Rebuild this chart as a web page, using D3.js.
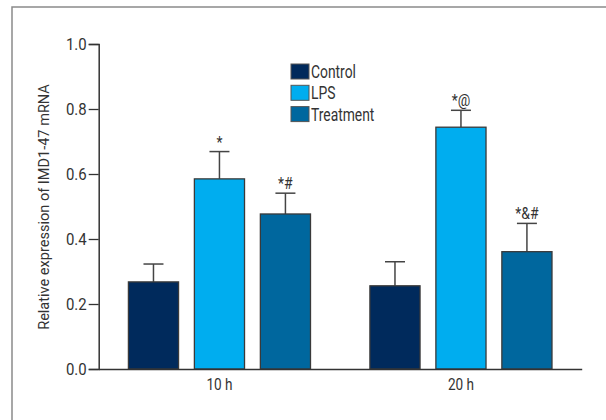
<!DOCTYPE html>
<html><head><meta charset="utf-8">
<script src="https://cdn.jsdelivr.net/npm/d3@7"></script>
<style>
html,body{margin:0;padding:0;background:#fff;}
svg{display:block;}
svg text{font-family:Roboto,"Noto Sans",sans-serif;}
</style></head>
<body>
<svg id="c" width="606" height="420"></svg>
<script>
const groups = ["10 h", "20 h"];
const series = ["Control", "LPS", "Treatment"];
const colors = ["#002a5c", "#00adef", "#00679e"];
const control = [0.268, 0.256];
const lps = [0.585, 0.744];
const treatment = [0.477, 0.361];
const controlErr = [0.055, 0.074];
const lpsErr = [0.084, 0.052];
const treatmentErr = [0.064, 0.087];
const controlSig = ["", ""];
const lpsSig = ["*", "*@"];
const treatmentSig = ["*#", "*&#"];
const yTicks = [0, 0.2, 0.4, 0.6, 0.8, 1.0];
const yLabel = "Relative expression of IMD1-47 mRNA";

const vals = [control, lps, treatment];
const errs = [controlErr, lpsErr, treatmentErr];
const sigs = [controlSig, lpsSig, treatmentSig];

// horizontal condensing around the text anchor point
function condense(sel, f) {
  sel.each(function() {
    const t = d3.select(this);
    const x = +(t.attr("x") || 0);
    const prev = t.attr("transform") || "";
    t.attr("transform", `${prev} translate(${x},0) scale(${f},1) translate(${-x},0)`);
  });
}

const svg = d3.select("#c");
svg.append("path").attr("d", "M12,420 V7 H606").attr("fill","none")
  .attr("stroke","#8a8a8a").attr("stroke-width",1.5);

const x0 = 98.7, x1 = 581.7, yTop = 44, yBot = 369;
const y = d3.scaleLinear().domain([0,1]).range([yBot, yTop]);
const gx = d3.scaleBand().domain(groups).range([x0, x1]).paddingInner(0.246).paddingOuter(0.123);
const sx = d3.scaleBand().domain(series).range([0, gx.bandwidth()]).paddingInner(0.24).paddingOuter(0);

groups.forEach((g, gi) => {
  series.forEach((s, si) => {
    const v = vals[si][gi], e = errs[si][gi];
    const bx = gx(g) + sx(s), bw = sx.bandwidth(), cx = bx + bw/2;
    svg.append("line").attr("x1",cx).attr("x2",cx).attr("y1",y(v)).attr("y2",y(v+e))
      .attr("stroke","#444").attr("stroke-width",1.5);
    svg.append("line").attr("x1",cx-10).attr("x2",cx+10).attr("y1",y(v+e)).attr("y2",y(v+e))
      .attr("stroke","#444").attr("stroke-width",1.5);
    svg.append("rect").attr("x",bx).attr("y",y(v)).attr("width",bw).attr("height",y(0)-y(v))
      .attr("fill",colors[si]).attr("stroke","#3a3a3a").attr("stroke-width",1.3);
    const sig = sigs[si][gi];
    if (sig) {
      const t = svg.append("text").attr("x",cx).attr("y",y(v+e)-4).attr("text-anchor","middle")
        .attr("font-size",17).attr("fill","#333").text(sig);
      condense(t, 0.82);
    }
  });
});

const ya = svg.append("g").attr("transform",`translate(${x0},0)`)
  .call(d3.axisLeft(y).tickValues(yTicks).tickFormat(d3.format(".1f")).tickSizeOuter(0).tickSize(10).tickPadding(2));
ya.attr("font-family",null).attr("font-size",null);
ya.select(".domain").attr("stroke","#333").attr("stroke-width",1.5);
ya.selectAll(".tick line").attr("stroke","#333").attr("stroke-width",1.3);
ya.selectAll(".tick text").attr("font-size",17).attr("fill","#333");
condense(ya.selectAll(".tick text"), 0.88);

const xa = svg.append("g").attr("transform",`translate(0,${yBot})`)
  .call(d3.axisBottom(gx).tickSize(0).tickPadding(9));
xa.attr("font-family",null).attr("font-size",null);
xa.select(".domain").attr("stroke","#333").attr("stroke-width",1.5);
xa.selectAll(".tick text").attr("font-size",17).attr("fill","#333");
condense(xa.selectAll(".tick text"), 0.8);

const yl = svg.append("text").attr("transform",`translate(49,207) rotate(-90)`)
  .attr("text-anchor","middle").attr("font-size",15.5).attr("fill","#333").text(yLabel);
condense(yl, 246 / yl.node().getComputedTextLength());

const lg = svg.append("g").attr("transform","translate(291,64)");
series.forEach((s, i) => {
  const r = lg.append("g").attr("transform",`translate(0,${i*21.3})`);
  r.append("rect").attr("width",18).attr("height",15).attr("fill",colors[i])
    .attr("stroke","#555").attr("stroke-width",1);
  const t = r.append("text").attr("x",20).attr("y",14).attr("font-size",18).attr("fill","#333").text(s);
  condense(t, 0.77);
});
</script>
</body></html>
